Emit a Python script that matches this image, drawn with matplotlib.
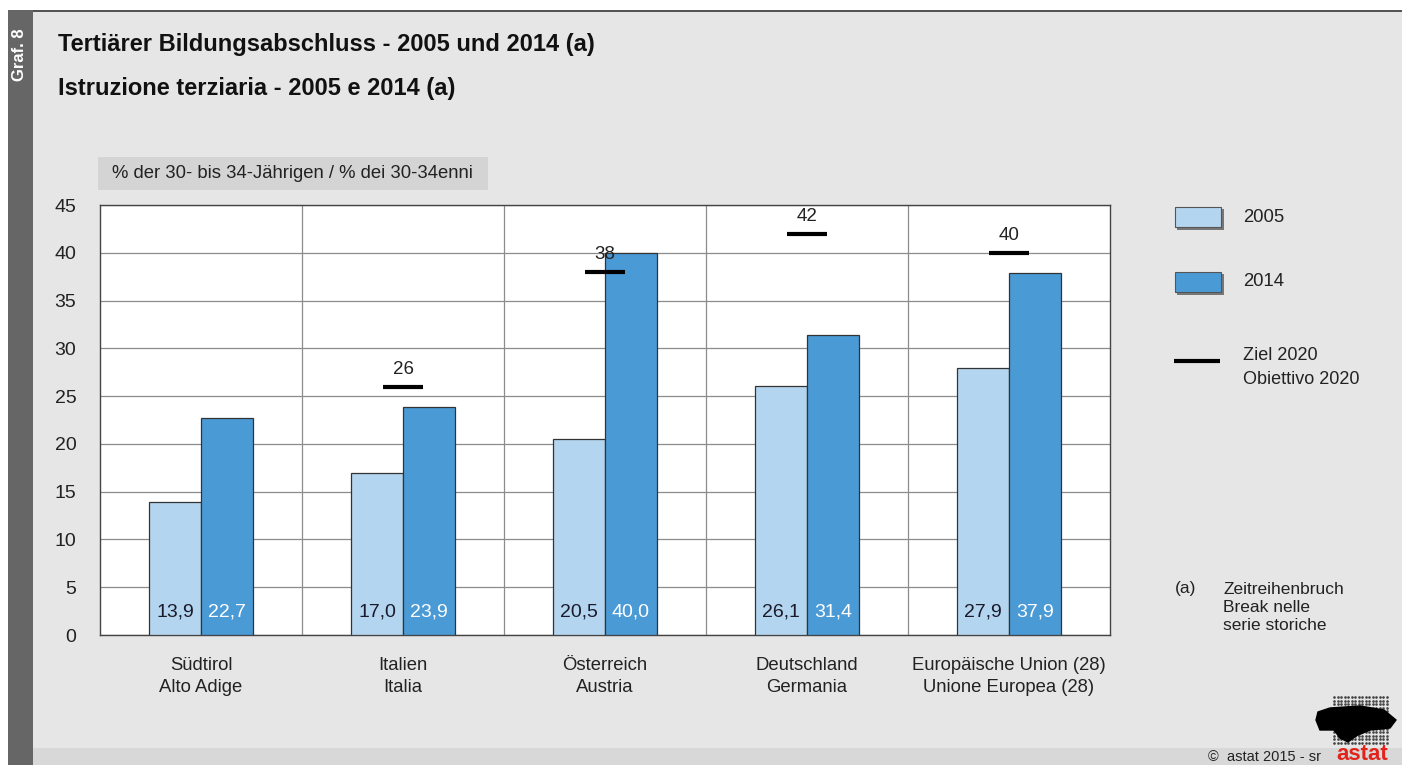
import matplotlib
matplotlib.use("Agg")
import matplotlib.pyplot as plt
from matplotlib.patches import Rectangle
import numpy as np

plt.rcParams['font.family'] = ['Liberation Sans', 'DejaVu Sans']

# Daten
laender = ["Südtirol\nAlto Adige", "Italien\nItalia", "Österreich\nAustria",
           "Deutschland\nGermania", "Europäische Union (28)\nUnione Europea (28)"]
werte_2005 = [13.9, 17.0, 20.5, 26.1, 27.9]
werte_2014 = [22.7, 23.9, 40.0, 31.4, 37.9]
ziel_2020 = [None, 26, 38, 42, 40]
y_ticks = [0, 5, 10, 15, 20, 25, 30, 35, 40, 45]

W, H = 1402, 765
HELL = "#b4d5ef"
DUNKEL = "#4a9ad6"
HG = "#e6e6e6"
TXT = "#222222"

fig = plt.figure(figsize=(W / 100, H / 100), dpi=100)
fig.patch.set_facecolor("white")


def px(x, y):
    """Pixel (von oben links) -> Figurkoordinaten"""
    return x / W, 1 - y / H


def rect_px(x0, y0, x1, y1, **kw):
    fx, fy = px(x0, y1)
    r = Rectangle((fx, fy), (x1 - x0) / W, (y1 - y0) / H,
                  transform=fig.transFigure, **kw)
    fig.add_artist(r)
    return r


def text_px(x, y, s, **kw):
    fx, fy = px(x, y)
    fig.text(fx, fy, s, **kw)


# Hintergrund
rect_px(8, 11, W, H, facecolor=HG, edgecolor="none", zorder=0)
rect_px(8, 10, W, 12, facecolor="#555555", edgecolor="none", zorder=1)
rect_px(33, 748, W, H, facecolor="#d8d8d8", edgecolor="none", zorder=1)
rect_px(8, 10, 33, H, facecolor="#666666", edgecolor="none", zorder=2)
text_px(20, 55, "Graf. 8", color="white", fontsize=12, fontweight="bold",
        rotation=90, ha="center", va="center", zorder=3)

# Titel
text_px(58, 45, "Tertiärer Bildungsabschluss - 2005 und 2014 (a)",
        fontsize=17, fontweight="bold", va="center", color="#111111")
text_px(58, 88, "Istruzione terziaria - 2005 e 2014 (a)",
        fontsize=17, fontweight="bold", va="center", color="#111111")

# Einheit
rect_px(98, 157, 488, 190, facecolor="#d4d4d4", edgecolor="none", zorder=1)
text_px(112, 174, "% der 30- bis 34-Jährigen / % dei 30-34enni",
        fontsize=13.3, va="center", color=TXT, zorder=2)

# Diagramm
ax = fig.add_axes([100 / W, (H - 635) / H, 1010 / W, 430 / H])
ax.set_facecolor("white")
x = np.arange(len(laender))
bw = 0.255
ax.bar(x - bw / 2, werte_2005, bw, color=HELL, edgecolor="#333333",
       linewidth=0.9, zorder=3)
ax.bar(x + bw / 2, werte_2014, bw, color=DUNKEL, edgecolor="#333333",
       linewidth=0.9, zorder=3)

for i in range(len(laender)):
    ax.text(x[i] - bw / 2, 2.4, f"{werte_2005[i]:.1f}".replace(".", ","),
            ha="center", va="center", fontsize=14, color="#1a1a2a", zorder=5)
    ax.text(x[i] + bw / 2, 2.4, f"{werte_2014[i]:.1f}".replace(".", ","),
            ha="center", va="center", fontsize=14, color="white", zorder=5)
    if ziel_2020[i] is not None:
        ax.plot([x[i] - 0.1, x[i] + 0.1], [ziel_2020[i]] * 2, color="black",
                linewidth=3, solid_capstyle="butt", zorder=6)
        ax.text(x[i], ziel_2020[i] + 1.8, str(ziel_2020[i]), ha="center",
                va="center", fontsize=13.5, color=TXT, zorder=6)

ax.set_xlim(-0.5, len(laender) - 0.5)
ax.set_ylim(0, 45)
ax.set_yticks(y_ticks)
ax.set_xticks(x)
ax.set_xticklabels(laender, fontsize=13.3, linespacing=1.4, color=TXT)
ax.tick_params(axis="y", labelsize=14, length=0, pad=17, labelcolor=TXT)
ax.tick_params(axis="x", length=0, pad=16)
ax.grid(axis="y", color="#8c8c8c", linewidth=0.9, zorder=1)
for b in np.arange(0.5, len(laender) - 0.5, 1):
    ax.axvline(b, color="#8c8c8c", linewidth=0.9, zorder=1)
for s in ax.spines.values():
    s.set_color("#444444")
    s.set_linewidth(1.0)

# Legende
for (y0, farbe, label) in [(207, HELL, "2005"), (272, DUNKEL, "2014")]:
    rect_px(1177, y0 + 2, 1224, y0 + 23, facecolor="#777777",
            edgecolor="none", zorder=2)
    rect_px(1175, y0, 1221, y0 + 20, facecolor=farbe, edgecolor="#555555",
            linewidth=0.8, zorder=3)
    text_px(1243, y0 + 10, label, fontsize=13.3, va="center", color=TXT)

fig.add_artist(plt.Line2D([1174 / W, 1220 / W], [px(0, 361)[1]] * 2,
                          transform=fig.transFigure, color="black",
                          linewidth=3, solid_capstyle="butt"))
text_px(1243, 356, "Ziel 2020", fontsize=13, va="center", color=TXT)
text_px(1243, 380, "Obiettivo 2020", fontsize=13, va="center", color=TXT)

text_px(1175, 589, "(a)", fontsize=12.5, va="center", color=TXT)
text_px(1223, 589, "Zeitreihenbruch", fontsize=12.5, va="center", color=TXT)
text_px(1223, 607, "Break nelle", fontsize=12.5, va="center", color=TXT)
text_px(1223, 625, "serie storiche", fontsize=12.5, va="center", color=TXT)

# Fußzeile
text_px(1208, 757, "©  astat 2015 - sr", fontsize=10.5, va="center", color=TXT)
text_px(1362, 754, "astat", fontsize=16, fontweight="bold", ha="center",
        va="center", color="#e2231a")
gx, gy = np.meshgrid(np.arange(1334, 1390, 3.5), np.arange(697, 743, 3.5))
fig.add_artist(plt.Line2D((gx.ravel()) / W, 1 - gy.ravel() / H,
                          transform=fig.transFigure, linestyle="none",
                          marker="o", markersize=0.9, color="#444444"))
blob = np.array([[1318, 712], [1330, 708], [1360, 706], [1384, 710], [1396, 720],
                 [1390, 728], [1370, 730], [1356, 736], [1348, 742], [1340, 738],
                 [1334, 730], [1320, 730], [1316, 720]])
fig.add_artist(plt.Polygon(np.c_[blob[:, 0] / W, 1 - blob[:, 1] / H],
                           transform=fig.transFigure, color="black", zorder=4))

fig.savefig("out.png", dpi=100, facecolor=fig.get_facecolor())
